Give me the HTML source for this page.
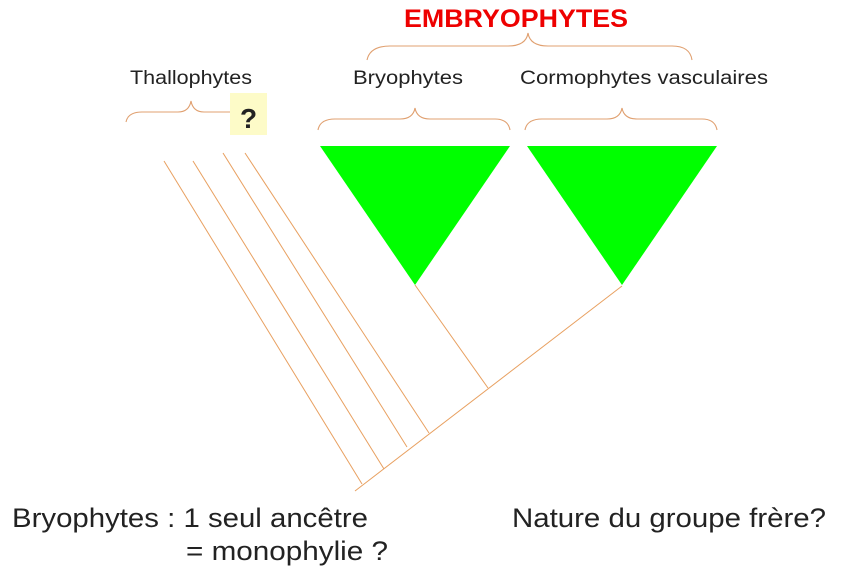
<!DOCTYPE html>
<html><head><meta charset="utf-8"><style>html,body{margin:0;padding:0;background:#fff}svg{display:block}</style></head>
<body>
<svg width="844" height="573" viewBox="0 0 844 573" xmlns="http://www.w3.org/2000/svg" font-family="Liberation Sans, Arial, sans-serif">
<g fill="none" stroke="#e0a070" stroke-width="1.1">
<path d="M367,60 Q370,46 390,46 L508,46 Q526,46 528,33 Q530,46 548,46 L672,46 Q690,46 692,60"/>
<path d="M318,130 Q320,119 335,119 L400,119 Q413,119 415,108 Q417,119 430,119 L495,119 Q508,119 510,130"/>
<path d="M525,130 Q527,119 542,119 L607,119 Q620,119 622,108 Q624,119 637,119 L702,119 Q715,119 717,130"/>
<path d="M126,122 Q128,112 142,112 L178,112 Q189,112 191,101 Q193,112 204,112 L231,112"/>
</g>
<rect x="230" y="93" width="37" height="42" fill="#fdfbc8"/>
<text x="248.5" y="128" font-size="28" font-weight="bold" fill="#222" text-anchor="middle">?</text>
<polygon points="320,146 510,146 415,285" fill="#00ff00"/>
<polygon points="527,146 717,146 622,285" fill="#00ff00"/>
<g stroke="#e8a060" stroke-width="1">
<line x1="164" y1="161" x2="362" y2="484"/>
<line x1="193" y1="161" x2="384" y2="469"/>
<line x1="223" y1="153" x2="407" y2="447"/>
<line x1="245" y1="153" x2="429" y2="433"/>
<line x1="415" y1="285" x2="488" y2="388"/>
<line x1="355" y1="491" x2="622" y2="286"/>
</g>
<text x="404" y="27" font-size="25" font-weight="bold" fill="#ee0000" textLength="224" lengthAdjust="spacingAndGlyphs">EMBRYOPHYTES</text>
<g font-size="19" fill="#222">
<text x="130" y="84" textLength="122" lengthAdjust="spacingAndGlyphs">Thallophytes</text>
<text x="353" y="84" textLength="110" lengthAdjust="spacingAndGlyphs">Bryophytes</text>
<text x="520" y="84" textLength="248" lengthAdjust="spacingAndGlyphs">Cormophytes vasculaires</text>
</g>
<g font-size="27" fill="#222">
<text x="12" y="527" textLength="356" lengthAdjust="spacingAndGlyphs">Bryophytes : 1 seul ancêtre</text>
<text x="186" y="560" textLength="202" lengthAdjust="spacingAndGlyphs">= monophylie ?</text>
<text x="512" y="527" textLength="314" lengthAdjust="spacingAndGlyphs">Nature du groupe frère?</text>
</g>
</svg>
</body></html>
